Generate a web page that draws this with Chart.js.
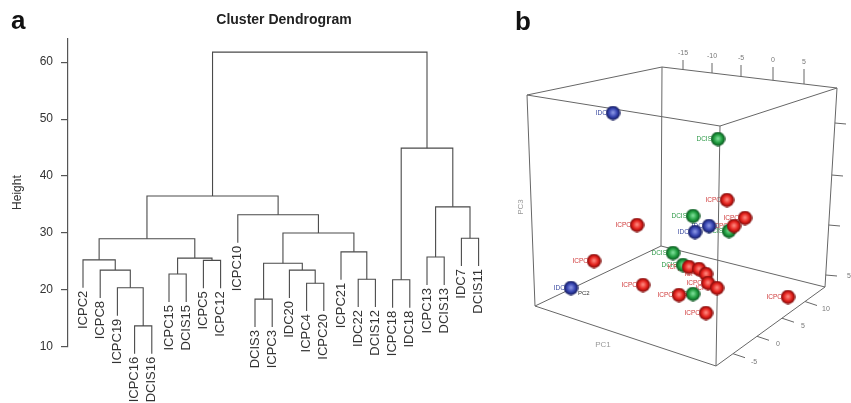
<!DOCTYPE html>
<html>
<head>
<meta charset="utf-8">
<script src="https://cdn.jsdelivr.net/npm/chart.js@4.4.1/dist/chart.umd.min.js"></script>
<style>
  body { margin: 0; background: #fff; }
  #wrap { position: relative; width: 851px; height: 403px; overflow: hidden; }
  #ca { position: absolute; left: 0; top: 0; }
  #cb { position: absolute; left: 500px; top: 0; }
</style>
</head>
<body>
<div id="wrap">
  <canvas id="ca" width="500" height="403"></canvas>
  <canvas id="cb" width="351" height="403"></canvas>
</div>
<script>
/* a: dendrogram data (hclust style merges: negative = leaf, positive = earlier merge) */
let leaves = ["ICPC2", "ICPC8", "ICPC19", "ICPC16", "DCIS16", "ICPC15", "DCIS15", "ICPC5", "ICPC12",
  "ICPC10", "DCIS3", "ICPC3", "IDC20", "ICPC4", "ICPC20", "ICPC21", "IDC22", "DCIS12",
  "ICPC18", "IDC18", "ICPC13", "DCIS13", "IDC7", "DCIS11"];
let mergeLeft  = [-4, -11, -3, -14, -19, -17, -6, -2, -13, 2, -1, -8, 7, -21, -16, 11, -23, 10, -10, 14, 16, 5, 21];
let mergeRight = [-5, -12, 1, -15, -20, -18, -7, 3, 4, 9, 8, -9, 12, -22, 6, 13, -24, 15, 18, 17, 19, 20, 22];
let mergeHeight = [13.7, 18.4, 20.4, 21.2, 21.8, 21.9, 22.8, 23.5, 23.5, 24.7, 25.3, 25.2, 25.6, 25.8,
  26.7, 29.0, 29.1, 30.0, 33.2, 34.6, 36.5, 44.9, 61.75];
let heightTicks = [10, 20, 30, 40, 50, 60];

/* b: 3D scatter, positions */
let idcPts  = [[113, 113], [195, 232], [209, 226], [71, 288]];
let dcisPts = [[218, 139], [193, 216], [229, 231], [173, 253], [183, 265], [193, 294]];
let icpcPts = [[227, 200], [245, 218], [234, 226], [137, 225], [94, 261], [143, 285], [179, 295],
  [206, 313], [288, 297], [189, 267], [199, 269], [206, 274], [208, 283], [217, 288]];
let topTickLabels = ["-15", "-10", "-5", "0", "5"];
let sideTickLabels = ["", "", "", "5"];
let frontTickLabels = ["10", "5", "0", "-5"];

let fam = "'Liberation Sans', Arial, sans-serif";
let hang = 4.9;

// build the links of the dendrogram
let mergePos = [];
let leafBottom = [];
let links = [];
for (let i = 0; i < mergeHeight.length; i++) {
  let h = mergeHeight[i];
  let sides = [mergeLeft[i], mergeRight[i]].map(c => {
    if (c < 0) {
      leafBottom[-c - 1] = h - hang;
      return { x: -c, y: h - hang };
    }
    return { x: mergePos[c - 1], y: mergeHeight[c - 1] };
  });
  mergePos[i] = (sides[0].x + sides[1].x) / 2;
  links.push({
    data: [sides[0], { x: sides[0].x, y: h }, { x: sides[1].x, y: h }, sides[1]],
    borderColor: "#4a4a4a",
    borderWidth: 1.1,
    pointRadius: 0,
    tension: 0,
    clip: false,
  });
}

let leafLabels = {
  id: "leafLabels",
  afterDraw(chart) {
    let c = chart.ctx, xs = chart.scales.x, ys = chart.scales.y;
    c.save();
    c.fillStyle = "#333";
    c.font = "13px " + fam;
    c.textAlign = "right";
    c.textBaseline = "middle";
    leaves.forEach((name, i) => {
      c.save();
      c.translate(xs.getPixelForValue(i + 1), ys.getPixelForValue(leafBottom[i]) + 3);
      c.rotate(-Math.PI / 2);
      c.fillText(name, 0, 0);
      c.restore();
    });
    c.font = "bold 26px " + fam;
    c.fillStyle = "#111";
    c.textAlign = "left";
    c.textBaseline = "alphabetic";
    c.fillText("a", 11, 29);
    c.restore();
  }
};

new Chart(document.getElementById("ca"), {
  type: "line",
  data: { datasets: links },
  options: {
    responsive: false,
    animation: false,
    layout: { autoPadding: false, padding: { top: 10.4, bottom: 56, left: 0, right: 0 } },
    scales: {
      x: { type: "linear", display: false, min: 0.128, max: 25.244 },
      y: {
        type: "linear",
        min: 10,
        max: 64.2,
        afterBuildTicks: s => { s.ticks = heightTicks.map(v => ({ value: v })); },
        afterFit: s => { s.width = 68; s.paddingTop = 0; s.paddingBottom = 0; },
        border: { display: true, color: "#555", width: 1.2 },
        grid: { drawOnChartArea: false, drawTicks: true, tickLength: 7, color: "#555", lineWidth: 1.2 },
        ticks: { color: "#333", font: { size: 12, family: fam }, padding: 8 },
        title: { display: true, text: "Height", color: "#333", font: { size: 12, family: fam }, padding: { top: 10, bottom: 0 } },
      },
    },
    plugins: {
      legend: { display: false },
      tooltip: { enabled: false },
      title: {
        display: true,
        text: "Cluster Dendrogram",
        fullSize: false,
        color: "#222",
        font: { size: 14, weight: "bold", family: fam },
        padding: { top: 1, bottom: 10 },
      },
    },
  },
  plugins: [leafLabels],
});

// ---------- panel b ----------
function sphere(edge, body, light) {
  let cv = document.createElement("canvas");
  cv.width = cv.height = 15;
  let g = cv.getContext("2d");
  let grd = g.createRadialGradient(7.5, 7, 0.3, 7.5, 7.5, 7.5);
  grd.addColorStop(0, light);
  grd.addColorStop(0.55, body);
  grd.addColorStop(1, edge);
  g.fillStyle = grd;
  g.beginPath();
  g.arc(7.5, 7.5, 7.2, 0, Math.PI * 2);
  g.fill();
  return cv;
}

let boxColor = "#666";
let boxTop = [[27, 95], [162, 67], [337, 88], [220, 126], [27, 95]];
let boxBottom = [[35, 306], [161, 246], [325, 287], [216, 366], [35, 306]];
let topTicks = [[183, 69.5, 183, 60], [212, 73, 212, 63], [241, 76.5, 241, 65], [273, 80.3, 273, 67], [304, 84, 304, 69]];
let sideTicks = [[334.9, 123, 346, 124], [331.8, 175, 343, 176], [328.7, 225, 340, 226], [325.7, 275, 337, 276]];
let frontTicks = [[305, 301.5, 317, 305.5], [282, 318.2, 294, 322.2], [257, 336.3, 269, 340.3], [233, 353.7, 245, 357.7]];

function seg(pts) {
  return {
    type: "line",
    data: pts.map(p => ({ x: p[0], y: p[1] })),
    borderColor: boxColor,
    borderWidth: 1,
    pointRadius: 0,
    showLine: true,
    order: 5,
  };
}
let boxSets = [seg(boxTop), seg(boxBottom)];
for (let i = 0; i < 4; i++) boxSets.push(seg([boxTop[i], boxBottom[i]]));
topTicks.concat(sideTicks, frontTicks).forEach(t => boxSets.push(seg([[t[0], t[1]], [t[2], t[3]]])));

let groups = [
  { name: "DCIS", pts: dcisPts, img: sphere("#08491b", "#1f9c3e", "#7fe09a"), text: "#2e9a48" },
  { name: "IDC", pts: idcPts, img: sphere("#10154e", "#3442ae", "#8c98e6"), text: "#3a4aa0" },
  { name: "ICPC", pts: icpcPts, img: sphere("#6a0606", "#e3201b", "#ff8a80"), text: "#d03a3a" },
];
let pointSets = groups.map((g, i) => ({
  type: "scatter",
  data: g.pts.map(p => ({ x: p[0], y: p[1] })),
  pointStyle: g.img,
  pointRadius: 7,
  order: 3 - i,
}));

let panelText = {
  id: "panelText",
  beforeDatasetsDraw(chart) {
    let c = chart.ctx, xs = chart.scales.x, ys = chart.scales.y;
    c.save();
    c.font = "6.5px " + fam;
    c.textAlign = "right";
    c.textBaseline = "middle";
    groups.forEach(g => {
      c.fillStyle = g.text;
      g.pts.forEach(p => c.fillText(g.name, xs.getPixelForValue(p[0]) - 6, ys.getPixelForValue(p[1])));
    });
    c.restore();
  },
  afterDraw(chart) {
    let c = chart.ctx, xs = chart.scales.x, ys = chart.scales.y;
    let px = v => xs.getPixelForValue(v), py = v => ys.getPixelForValue(v);
    c.save();
    c.fillStyle = "#777";
    c.font = "7px " + fam;
    c.textAlign = "center";
    c.textBaseline = "middle";
    topTicks.forEach((t, i) => c.fillText(topTickLabels[i], px(t[2]), py(t[3] - 7)));
    sideTicks.forEach((t, i) => c.fillText(sideTickLabels[i], px(t[2] + 12), py(t[3])));
    frontTicks.forEach((t, i) => c.fillText(frontTickLabels[i], px(t[2] + 9), py(t[3] + 4)));
    c.fillStyle = "#999";
    c.font = "8px " + fam;
    c.fillText("PC1", px(103), py(345));
    c.save();
    c.translate(px(21), py(207));
    c.rotate(-Math.PI / 2);
    c.fillText("PC3", 0, 0);
    c.restore();
    c.fillStyle = "#333";
    c.font = "6px " + fam;
    c.textAlign = "left";
    c.fillText("PC2", px(78), py(293));
    c.fillStyle = "#111";
    c.font = "bold 26px " + fam;
    c.textBaseline = "alphabetic";
    c.fillText("b", 15, 30);
    c.restore();
  }
};

new Chart(document.getElementById("cb"), {
  type: "scatter",
  data: { datasets: pointSets.concat(boxSets) },
  options: {
    responsive: false,
    animation: false,
    layout: { autoPadding: false, padding: 0 },
    scales: {
      x: { type: "linear", display: false, min: 0, max: 351 },
      y: { type: "linear", display: false, min: 0, max: 403, reverse: true },
    },
    plugins: { legend: { display: false }, tooltip: { enabled: false } },
  },
  plugins: [panelText],
});
</script>
</body>
</html>
